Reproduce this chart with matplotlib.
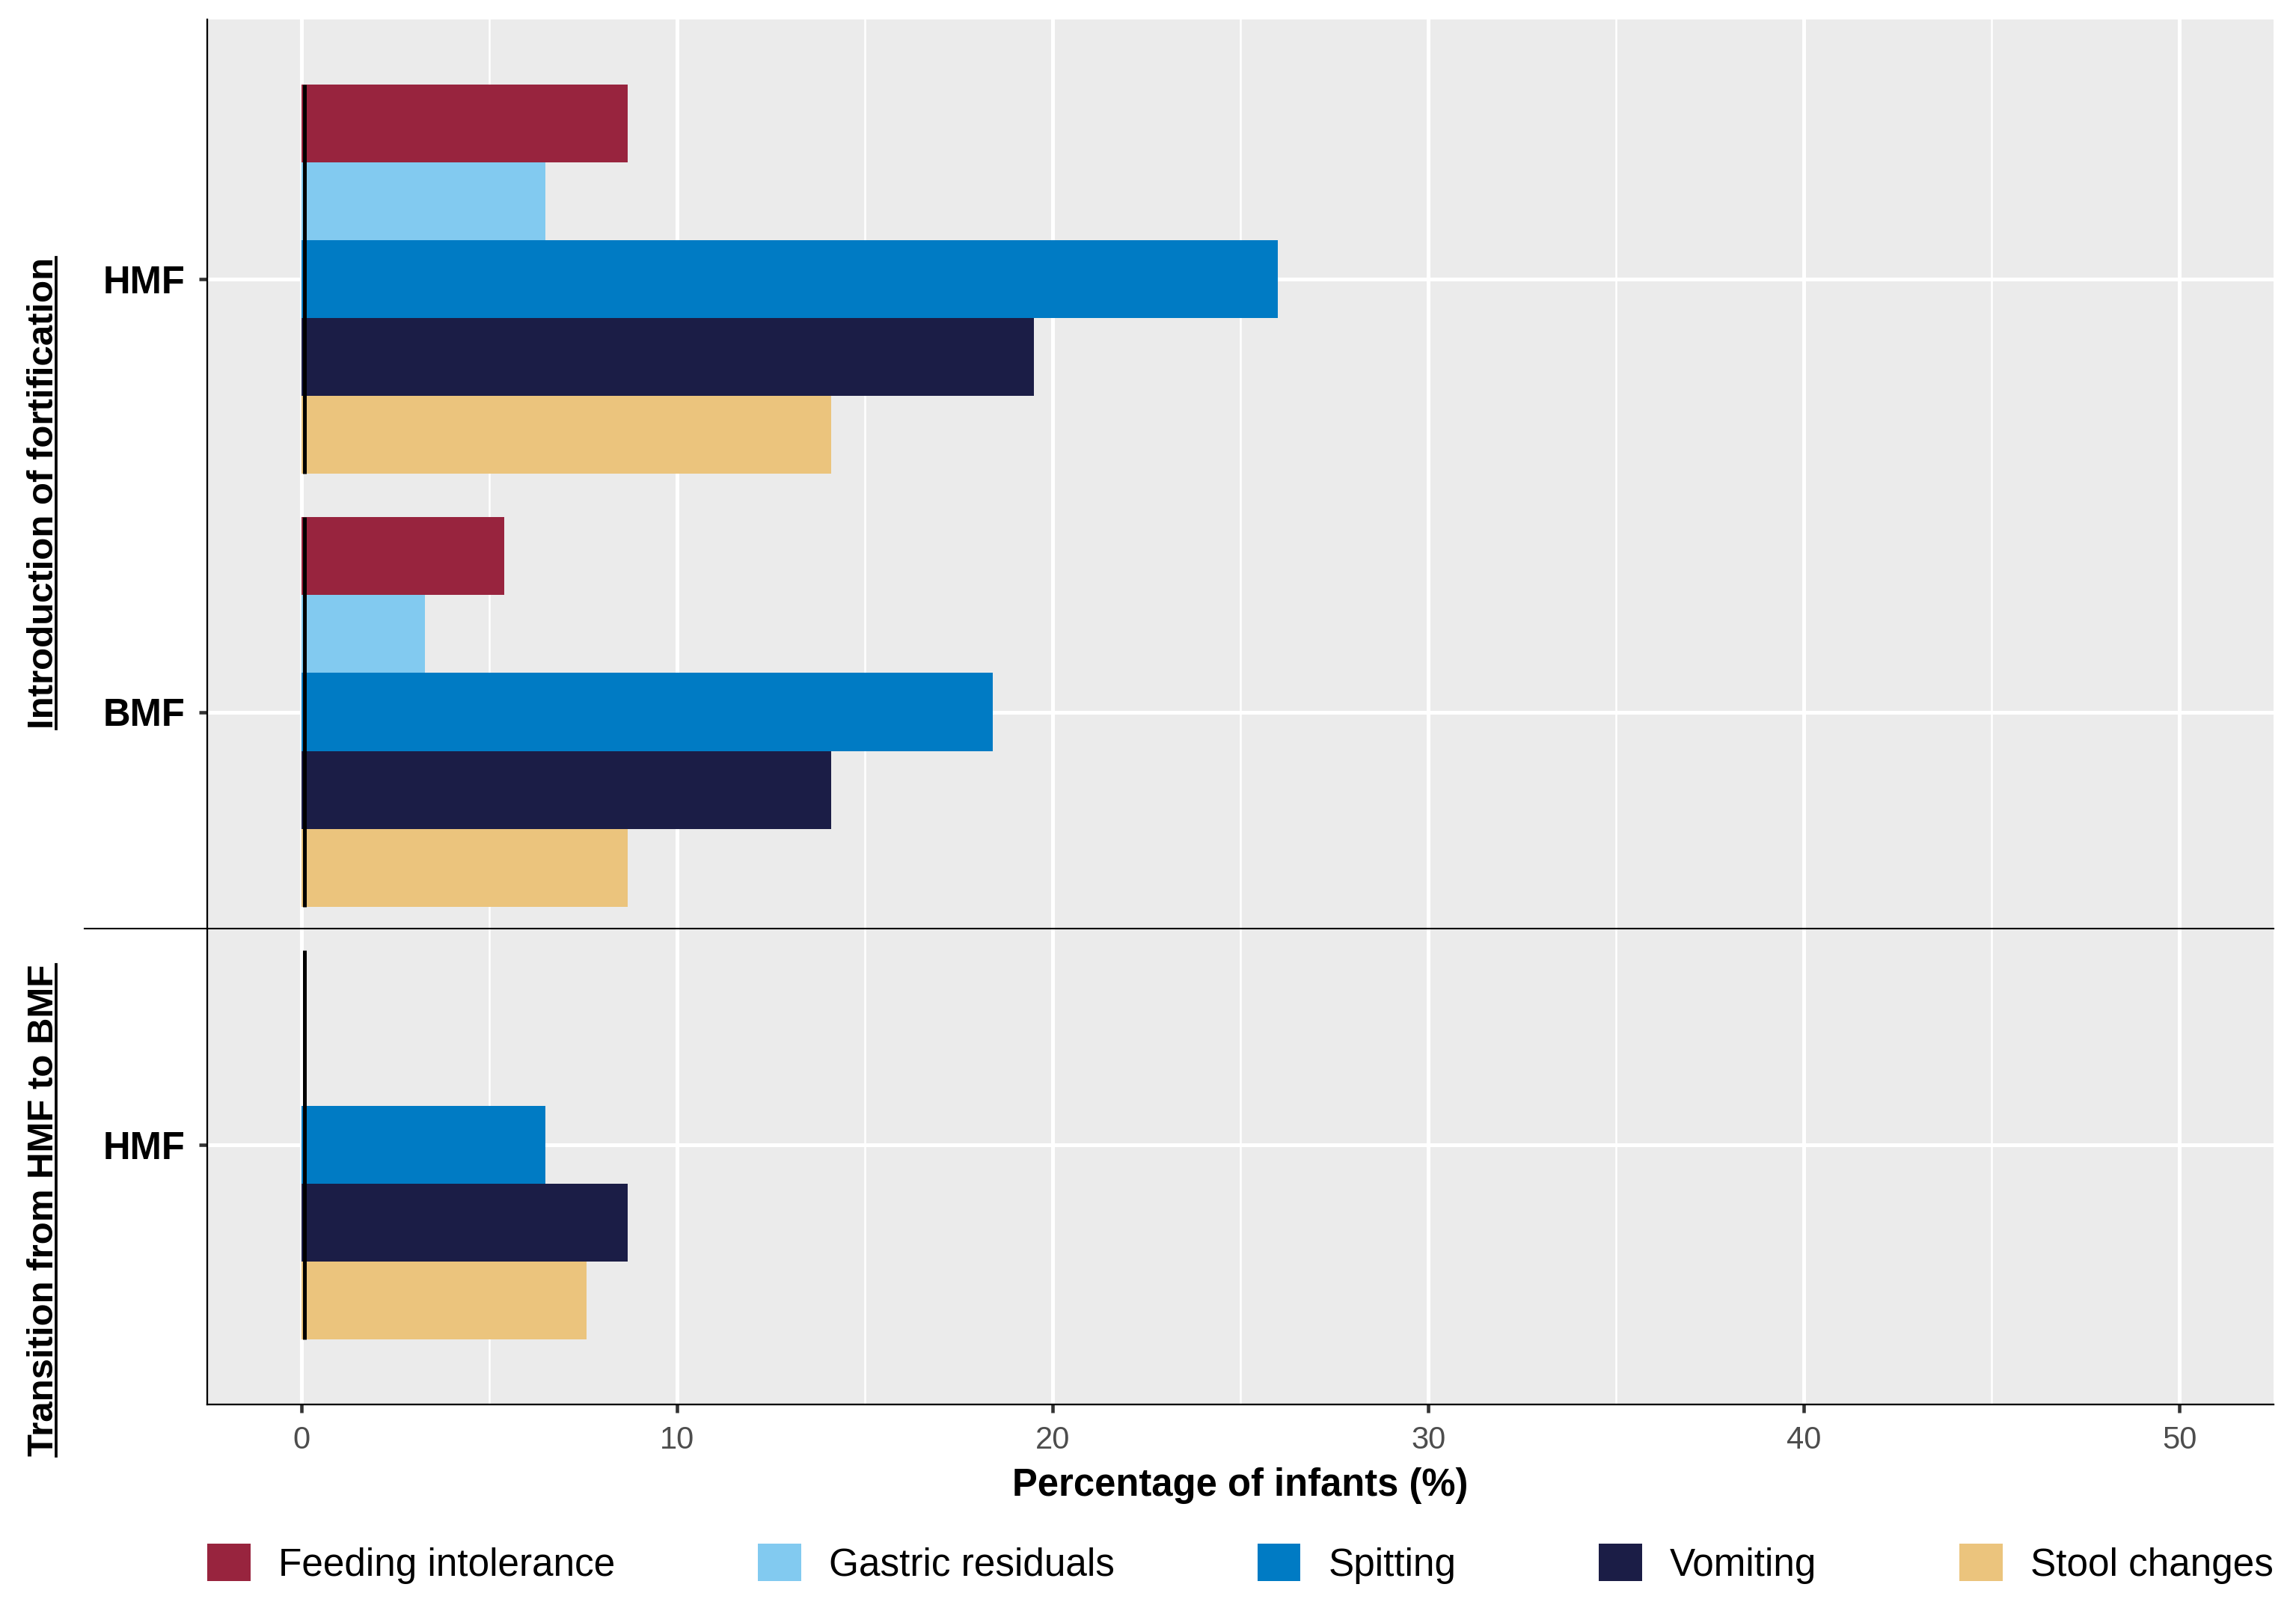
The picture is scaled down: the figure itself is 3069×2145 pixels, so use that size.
import matplotlib.pyplot as plt
from matplotlib.patches import Patch
from matplotlib.lines import Line2D
import matplotlib.transforms as mtransforms
import numpy as np

plt.rcParams['font.family'] = ['Liberation Sans', 'DejaVu Sans']

# Data (percentage of infants)
symptoms = ["Feeding intolerance", "Gastric residuals", "Spitting", "Vomiting", "Stool changes"]
colors = ["#98243E", "#82CAF0", "#007BC4", "#1B1D46", "#EBC47D"]
groups = ["HMF", "BMF", "HMF"]
panels = ["Introduction of fortification", "Transition from HMF to BMF"]

feeding = [8.7, 5.4, 0.0]
gastric = [6.5, 3.3, 0.0]
spitting = [26.0, 18.4, 6.5]
vomiting = [19.5, 14.1, 8.7]
stool = [14.1, 8.7, 7.6]
series = [feeding, gastric, spitting, vomiting, stool]

W, H = 3069, 2145
fig = plt.figure(figsize=(W / 300, H / 300), dpi=300)
ax = fig.add_axes([277 / W, 1 - 1877 / H, (3039 - 277) / W, (1877 - 26) / H])
ax.set_facecolor("#EBEBEB")

y = np.arange(len(groups))
bh = 0.18
for i, vals in enumerate(series):
    ax.barh(y + (i - 2) * bh, vals, height=bh, color=colors[i], linewidth=0, zorder=2)

# black marker line at zero for every group
ax.vlines(np.full(len(groups), 0.09), y - 2.5 * bh, y + 2.5 * bh, color="black", linewidth=1.2, zorder=3)

ax.set_xlim(-2.5, 52.5)
ax.set_ylim(2.6, -0.6)
ax.set_xticks(range(0, 51, 10))
ax.set_xticks(range(5, 50, 10), minor=True)
ax.set_yticks(y)
ax.set_yticklabels(groups, fontweight="bold", fontsize=12.2, color="black")
ax.tick_params(axis="x", labelsize=10, labelcolor="#4D4D4D", colors="#333333", length=2.6, width=1.1, pad=4)
ax.tick_params(axis="y", colors="#333333", labelcolor="black", length=2.6, width=1.1, pad=4.5)
ax.tick_params(which="minor", length=0)
ax.grid(which="major", color="white", linewidth=1.2, zorder=0)
ax.grid(which="minor", axis="x", color="white", linewidth=0.6, zorder=0)
ax.set_axisbelow(True)

for s in ["top", "right"]:
    ax.spines[s].set_visible(False)
for s in ["left", "bottom"]:
    ax.spines[s].set_linewidth(0.55)
    ax.spines[s].set_color("black")

ax.set_xlabel("Percentage of infants (%)", fontweight="bold", fontsize=12.2, labelpad=4)

# separator between the two sections
trans = mtransforms.blended_transform_factory(ax.transAxes, ax.transData)
ax.plot([(113 - 277) / (3039 - 277), 1], [1.5, 1.5], transform=trans, color="black",
        linewidth=0.5, clip_on=False, zorder=4)

# section labels (bold, underlined)
label_x = (71 - 277) / (3039 - 277)
label_y = [0.494, 2.152]
section_texts = []
for txt, yy in zip(panels, label_y):
    t = ax.text(label_x, yy, txt, transform=trans, rotation=90, rotation_mode="anchor",
                ha="center", va="baseline", fontweight="bold", fontsize=11.8)
    section_texts.append(t)

legend_handles = [Patch(facecolor=c, edgecolor="none", label=s) for s, c in zip(symptoms, colors)]
fig.legend(handles=legend_handles, loc="center", ncol=5, mode="expand",
           bbox_to_anchor=(277 / W, 1 - 2090 / H, (3039 - 277) / W, 0),
           frameon=False, fontsize=12.3, handlelength=1.13, handleheight=1.13,
           handletextpad=0.72, borderpad=0, borderaxespad=0)

# underline the section labels
fig.canvas.draw()
renderer = fig.canvas.get_renderer()
for t in section_texts:
    bb = t.get_window_extent(renderer)
    xline = 74.5
    fig.add_artist(Line2D([xline / W, xline / W], [bb.y0 / H, bb.y1 / H], transform=fig.transFigure,
                          color="black", linewidth=0.9))

fig.savefig("out.png", dpi=300)
